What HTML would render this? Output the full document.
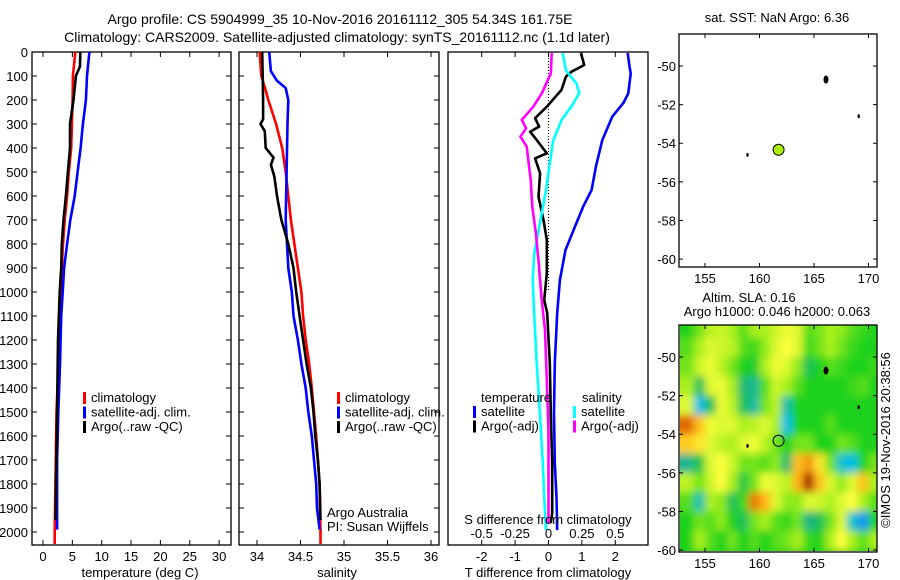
<!DOCTYPE html>
<html><head><meta charset="utf-8"><style>
html,body{margin:0;padding:0;background:#fff;}
svg{display:block;font-family:"Liberation Sans",sans-serif;}
text{font-size:13px;fill:#000;}
</style></head><body>
<svg id="fig" width="900" height="580" viewBox="0 0 900 580">
<defs>
<filter id="blur" x="-10%" y="-10%" width="120%" height="120%"><feGaussianBlur stdDeviation="4"/></filter>
<clipPath id="map2clip"><rect x="680" y="325" width="197" height="226"/></clipPath>
</defs>
<text x="340" y="24" text-anchor="middle" style="font-size:14px">Argo profile: CS 5904999_35 10-Nov-2016 20161112_305 54.34S 161.75E</text>
<text x="337" y="42" text-anchor="middle" style="font-size:14px">Climatology: CARS2009. Satellite-adjusted climatology: synTS_20161112.nc (1.1d later)</text>
</svg>
<script>
// ---------- data ----------
const climTDepth=[0,100,200,400,500,600,700,800,900,1000,1200,1500,2000,2050];
const climT=[5.5,5.1,5.05,4.8,4.4,4.1,3.7,3.4,3.2,3.0,2.8,2.3,2.0,2.0];
const satTDepth=[0,100,200,300,400,500,600,700,800,900,1000,1100,1300,1500,1700,1900,1990];
const satT=[7.9,7.5,7.3,6.8,6.4,5.9,5.4,4.65,4.1,3.6,3.35,3.1,2.9,2.6,2.4,2.4,2.4];
const argoTDepth=[0,60,100,200,300,400,500,600,700,800,900,1000,1200,1500,1800,1950];
const argoT=[6.36,6.3,5.6,5.2,4.6,4.6,4.25,3.9,3.5,3.2,3.1,2.85,2.55,2.4,2.2,2.15];

const climSDepth=[0,100,160,200,300,400,500,600,700,800,900,1000,1100,1200,1300,1400,1500,1600,1700,1800,2000,2050];
const climS=[34.03,34.05,34.1,34.13,34.22,34.29,34.33,34.36,34.39,34.43,34.47,34.51,34.53,34.56,34.6,34.63,34.655,34.68,34.7,34.72,34.73,34.73];
const satSDepth=[0,80,120,150,200,300,500,700,900,1000,1100,1200,1300,1400,1500,1600,1700,1800,1900,1990];
const satS=[34.14,34.16,34.23,34.33,34.36,34.35,34.34,34.33,34.36,34.4,34.42,34.47,34.51,34.56,34.59,34.63,34.655,34.68,34.69,34.72];
const argoSDepth=[0,100,200,280,300,330,400,440,470,520,600,700,800,900,1000,1100,1200,1300,1400,1500,1600,1700,1800,1950];
const argoS=[34.06,34.065,34.07,34.07,34.04,34.09,34.1,34.19,34.16,34.2,34.23,34.28,34.36,34.42,34.45,34.49,34.53,34.57,34.62,34.65,34.67,34.7,34.72,34.73];

const dSatTDepth=[4,54,90,172,213,269,367,478,575,644,728,825,950,1088,1296,1504,1713,1854,1992];
const dSatT=[2.37,2.42,2.46,2.39,2.24,1.91,1.61,1.42,1.29,1.04,0.79,0.51,0.34,0.26,0.19,0.165,0.19,0.24,0.26];
const dArgoTDepth=[4,54,82,103,158,228,276,311,332,367,422,443,506,603,700,783,922,992,1033,1088,1296,1504,1713,1921,1963];
const dArgoT=[0.97,1.07,0.69,0.52,0.39,-0.05,-0.4,-0.28,-0.55,-0.35,-0.05,-0.4,-0.25,-0.3,-0.15,-0.05,-0.05,-0.1,-0.13,-0.04,0.04,0.07,0.11,0.11,0.07];
const dSatSDepth=[4,76,132,172,228,283,367,478,575,728,839,950,1088,1296,1504,1713,1921,1992];
const dSatS=[0.106,0.13,0.21,0.23,0.17,0.099,0.036,0.006,-0.019,-0.069,-0.106,-0.118,-0.108,-0.088,-0.064,-0.043,-0.026,-0.019];
const dArgoSDepth=[4,90,172,228,283,318,353,394,450,533,644,756,894,1033,1158,1367,1575,1783,1963];
const dArgoS=[0.024,0.017,-0.05,-0.114,-0.2,-0.168,-0.21,-0.163,-0.151,-0.133,-0.121,-0.094,-0.071,-0.051,-0.026,-0.013,0,0,0];

const depthTicks=[0,100,200,300,400,500,600,700,800,900,1000,1100,1200,1300,1400,1500,1600,1700,1800,1900,2000];
const tempTicks=[0,5,10,15,20,25,30];
const salTicks=[34,34.5,35,35.5,36];
const tDiffTicks=[-2,-1,0,1,2];
const sDiffTicks=[-0.5,-0.25,0,0.25,0.5];
const lonTicks=[155,160,165,170];
const latTicks=[-50,-52,-54,-56,-58,-60];

// SLA grid (lon centres 153.5..170.5, lat centres -48.5..-60.5)
const slaLons=[153.5,154.5,155.5,156.5,157.5,158.5,159.5,160.5,161.5,162.5,163.5,164.5,165.5,166.5,167.5,168.5,169.5,170.5];
const slaLats=[-48.5,-49.5,-50.5,-51.5,-52.5,-53.5,-54.5,-55.5,-56.5,-57.5,-58.5,-59.5,-60.5];
const slaRows=[
[0,0.3,0.6,0.7,0.5,0.2,0.5,0.5,0.7,0.9,0.8,0.2,0.3,0.5,0.4,0.2,0.1,0],
[0.2,0.5,0.8,0.7,0.6,0.2,0.1,0.4,0.8,1,0.8,0.1,0.3,0.5,0.3,0.1,0,0],
[0.3,0.7,0.9,0.6,0.3,0,-0.1,0.5,0.9,0.8,0.4,-0.3,0,0.2,0.1,0,0,0.1],
[0.5,-0.3,0.8,0.9,0.5,-0.4,-0.6,0.2,0.7,0.5,0.2,0,0,0,0,0.1,0.2,0],
[0.8,-1.3,-0.3,0.9,0.6,-0.3,-0.7,0.3,0.6,-0.8,0,0,0,0,0,0,0,0],
[2.1,1.5,0.9,0.8,0.8,0.5,0.6,0.8,0.5,-1.3,0,0,0,0.2,0,0,0,0],
[1.4,1.2,0.8,0.6,0.5,0.8,0.9,0.6,0.3,0,0.3,0.3,0,0,0.3,0.2,0,0],
[-0.6,-0.2,0.8,1.0,0.7,0.3,0.3,0.2,0.4,-0.4,1.5,1.8,1.2,0.3,-1.0,-1.3,0,0.3],
[0.6,0.3,0.7,1.0,0.5,-0.2,0.3,0.9,0.8,0.6,1.6,2.8,1.5,0.8,0.4,0.8,1.5,0.5],
[0.2,-0.8,0.5,0.4,-0.3,0.1,2.0,1.6,0.8,0.4,0.4,0.8,0.7,0.5,0.8,1.0,0.5,0.2],
[0,0.3,0.2,0.4,0,-0.3,0.3,0.5,0.2,0.1,0.3,-0.5,-0.3,0.3,0.8,-1.0,-1.6,0],
[0,0.5,0.2,0,0.3,0,0.2,0,0.2,0.3,0.5,0.1,0,0.5,1.0,0.5,0.2,0.5],
[0,0,0,0,0,0,0,0,0,0,0,0,0,0,0,0,0,0]];

const islandLons=[166.1,169.1,158.9];
const islandLats=[-50.7,-52.6,-54.6];
const argoLon=161.75, argoLat=-54.34;

// ---------- helpers ----------
const svg=document.getElementById('fig');
const NS='http://www.w3.org/2000/svg';
function el(tag,attrs,parent){const e=document.createElementNS(NS,tag);for(const k in attrs)e.setAttribute(k,attrs[k]);(parent||svg).appendChild(e);return e;}
function txt(x,y,s,anchor,parent,size){const t=el('text',{x:x,y:y,'text-anchor':anchor||'start'},parent);if(size)t.style.fontSize=size+'px';t.textContent=s;return t;}

const TOP=52,BOT=545;
const yD=d=>TOP+0.24*d;
const x1=v=>43+5.87*v;
const x2=v=>257+87*v-87*34;
const x3=v=>548.5+33.4*v;
const x3s=v=>x3(v*4);

function linePath(depths,vals,xf){
  return vals.map((v,i)=>(i?'L':'M')+xf(v).toFixed(1)+' '+yD(depths[i]).toFixed(1)).join(' ');
}
function series(depths,vals,xf,color,name,w){
  const p=el('path',{d:linePath(depths,vals,xf),fill:'none',stroke:color,'stroke-width':w||2.6,'stroke-linejoin':'round'});
  
  
}
function frame(x0,x1p,name){
  const r=el('rect',{x:x0,y:TOP,width:x1p-x0,height:BOT-TOP,fill:'#fff',stroke:'#000','stroke-width':1.3});
  
  
}
function xTicks(ticks,xf,labels,lblY){
  ticks.forEach((t,i)=>{
    const x=xf(t);
    el('line',{x1:x,x2:x,y1:BOT,y2:BOT-5,stroke:'#000'});
    el('line',{x1:x,x2:x,y1:TOP,y2:TOP+5,stroke:'#000'});
    if(labels){const tl=txt(x,lblY||561,labels[i],'middle');
      
      }
  });
}
function yTicks(x0,x1p){
  depthTicks.forEach(d=>{
    const y=yD(d);
    el('line',{x1:x0,x2:x0+5,y1:y,y2:y,stroke:'#000'});
    el('line',{x1:x1p,x2:x1p-5,y1:y,y2:y,stroke:'#000'});
  });
}
function legend(x,y,items){
  items.forEach((it,i)=>{
    const yy=y+i*14.5;
    el('rect',{x:x,y:yy-10,width:3,height:12,fill:it[0]});
    const t=txt(x+8,yy,it[1]);
    
    
  });
}

// ---------- panel 1: temperature ----------
frame(32,231,'temperature-panel');
yTicks(32,231);
xTicks(tempTicks,x1,tempTicks.map(String));
depthTicks.forEach(d=>{const t=txt(28,yD(d)+5,String(d),'end');
  
  });
series(climTDepth,climT,x1,'#ff0000','climatology-temp-line');
series(satTDepth,satT,x1,'#0000ff','satellite-temp-line');
series(argoTDepth,argoT,x1,'#000000','argo-temp-line');
legend(83,402,[['#ff0000','climatology'],['#0000ff','satellite-adj. clim.'],['#000','Argo(..raw -QC)']]);
let t=txt(140,577,'temperature (deg C)','middle');



// ---------- panel 2: salinity ----------
frame(239,439,'salinity-panel');
yTicks(239,439);
xTicks(salTicks,x2,['34','34.5','35','35.5','36']);
series(climSDepth,climS,x2,'#ff0000','climatology-salinity-line');
series(satSDepth,satS,x2,'#0000ff','satellite-salinity-line');
series(argoSDepth,argoS,x2,'#000000','argo-salinity-line');
legend(337,402,[['#ff0000','climatology'],['#0000ff','satellite-adj. clim.'],['#000','Argo(..raw -QC)']]);
t=txt(327,517,'Argo Australia');
t=txt(327,531,'PI: Susan Wijffels');
t=txt(337,577,'salinity','middle');



// ---------- panel 3: differences ----------
frame(448,648,'difference-panel');
xTicks(tDiffTicks,x3,['-2','-1','0','1','2']);
el('line',{x1:x3(0),x2:x3(0),y1:TOP,y2:yD(1000),stroke:'#000','stroke-dasharray':'1 2'});
series(dSatTDepth,dSatT,x3,'#0000ff','satellite-temp-diff-line');
series(dArgoTDepth,dArgoT,x3,'#000000','argo-temp-diff-line');
series(dSatSDepth,dSatS,x3s,'#00ffff','satellite-salinity-diff-line');
series(dArgoSDepth,dArgoS,x3s,'#ff00ff','argo-salinity-diff-line');
t=txt(481,402,'temperature');
t=txt(582,402,'salinity');
legend(473,416,[['#0000ff','satellite'],['#000','Argo(-adj)']]);
legend(573,416,[['#00ffff','satellite'],['#ff00ff','Argo(-adj)']]);
t=txt(548,524,'S difference from climatology','middle');
sDiffTicks.forEach((s,i)=>{const l=txt(x3s(s),538,['-0.5','-0.25','0','0.25','0.5'][i],'middle');
  });
t=txt(548,577,'T difference from climatology','middle');



// ---------- maps ----------
const lonX=lon=>705+10.9*(lon-155);
function mapAxes(top,bot,name){
  const latY=lat=>top+ (-48.34-lat)*19.3;
  const r=el('rect',{x:679,y:top,width:198,height:bot-top,fill:'none',stroke:'#000','stroke-width':1.3});
  
  
  lonTicks.forEach(l=>{const x=lonX(l);
    el('line',{x1:x,x2:x,y1:bot,y2:bot-4,stroke:'#000'});
    el('line',{x1:x,x2:x,y1:top,y2:top+4,stroke:'#000'});
    const tl=txt(x,bot+16,String(l),'middle');
    });
  latTicks.forEach(l=>{const y=latY(l);
    el('line',{x1:679,x2:683,y1:y,y2:y,stroke:'#000'});
    el('line',{x1:877,x2:873,y1:y,y2:y,stroke:'#000'});
    const tl=txt(676,y+5,String(l),'end');
    });
  return latY;
}
function islands(latY){
  islandLons.forEach((lo,i)=>{
    const c=el('ellipse',{cx:lonX(lo),cy:latY(islandLats[i]),rx:i===0?2.5:1.2,ry:i===0?4:2,fill:'#000'});
    
    
  });
}

// map 1: SST
const m1=mapAxes(34,267,'sst-map');
islands(m1);
let c=el('circle',{cx:lonX(argoLon),cy:m1(argoLat),r:5.5,fill:'#aaee00',stroke:'#000','stroke-width':1});


t=txt(777,22,'sat. SST: NaN Argo: 6.36','middle');

// map 2: SLA
function slaColor(v){
  const st=[[-2,[40,100,255]],[-1.2,[0,200,230]],[-0.5,[30,180,130]],[0,[30,210,30]],[0.5,[170,240,30]],[1,[255,255,60]],[1.6,[255,180,20]],[2.2,[220,90,0]],[3,[150,0,0]]];
  if(v<=st[0][0])return 'rgb('+st[0][1]+')';
  for(let i=1;i<st.length;i++){if(v<=st[i][0]){const a=st[i-1],b=st[i],f=(v-a[0])/(b[0]-a[0]);
    return 'rgb('+a[1].map((q,k)=>Math.round(q+(b[1][k]-q)*f)).join(',')+')';}}
  return 'rgb('+st[st.length-1][1]+')';
}
const m2top=325,m2bot=552;
const m2LatY=lat=>m2top+(-48.34-lat)*19.3;
el('rect',{x:680,y:m2top,width:197,height:226,fill:'#55dd30'});
const hg=el('g',{'clip-path':'url(#map2clip)'});
const hb=el('g',{filter:'url(#blur)'},hg);


slaRows.forEach((row,j)=>{row.forEach((v,i)=>{
  const x=lonX(slaLons[i]-0.5),y=m2LatY(slaLats[j]+0.5);
  const w=10.9,h=19.3;
  const r=el('rect',{x:i===0?x-15:x,y:j===0?y-15:y,width:w+(i===0||i===row.length-1?15:0)+0.5,height:h+(j===0||j===slaRows.length-1?15:0)+0.5,fill:slaColor(v)},hb);
  
  
});});
el('rect',{x:680,y:551,width:197,height:1.5,fill:'#fff'});
mapAxes(m2top,m2bot,'sla-map');
islands(m2LatY);
c=el('circle',{cx:lonX(argoLon),cy:m2LatY(argoLat),r:5.5,fill:'none',stroke:'#000','stroke-width':1});


t=txt(749,302,'Altim. SLA: 0.16','middle');
t=txt(777,316,'Argo h1000: 0.046 h2000: 0.063','middle');
t=txt(0,0,'©IMOS 19-Nov-2016 20:38:56','middle');
t.setAttribute('transform','translate(890,440) rotate(-90)');


</script>
</body></html>
